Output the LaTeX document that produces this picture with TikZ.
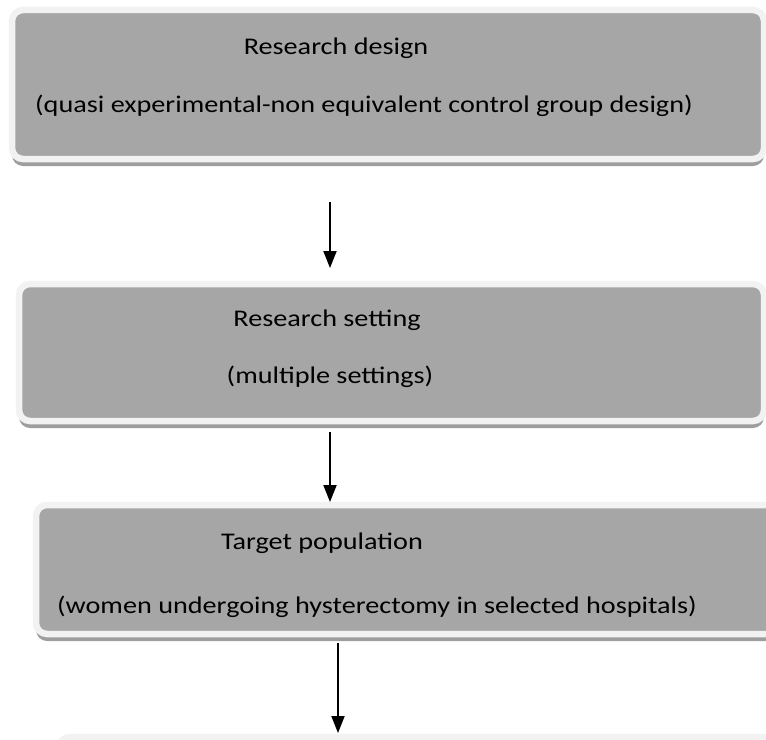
\documentclass[tikz,border=0pt]{standalone}
\usepackage{fontspec}
\setmainfont{Carlito}[FakeStretch=1.18]
\usepackage{xcolor}
\usetikzlibrary{arrows.meta, positioning, calc, shadows}
\definecolor{StageGray}{RGB}{166, 166, 166}
\definecolor{StageRim}{RGB}{242, 242, 242}
\definecolor{StageShade}{RGB}{158, 158, 158}

\tikzset{
  stagebox/.style={rounded corners=11bp, fill=StageGray, draw=StageRim, line width=6.5bp,
    anchor=north west, inner sep=0pt, outer sep=0pt,
    drop shadow={shadow xshift=0bp, shadow yshift=-7bp, fill=StageShade, opacity=1}},
  stagetext/.style={inner sep=0pt, text=black, font=\fontsize{24}{28}\selectfont},
  flow/.style={draw=black, line width=2bp, -{Triangle[width=13bp, length=17bp]}}
}

\begin{document}
\begin{tikzpicture}[x=1bp, y=-1bp]
    \useasboundingbox (0,0) rectangle (766,740);
    % stage boxes
    \node[stagebox, minimum width=752bp, minimum height=149bp] (design) at (12,10) {};
    \node[stagebox, minimum width=745bp, minimum height=137bp] (setting) at (19,284) {};
    \node[stagebox, minimum width=760bp, minimum height=129bp] (population) at (36,505) {};
    \node[stagebox, minimum width=760bp, minimum height=129bp] (sample) at (59,737) {};
    % box texts
    \node[stagetext] (designname) at (336,48) {Research design};
    \node[stagetext] (designnote) at (364,106) {(quasi experimental-non equivalent control group design)};
    \node[stagetext] (settingname) at (327,320) {Research setting};
    \node[stagetext] (settingnote) at (330,377) {(multiple settings)};
    \node[stagetext] (populationname) at (322,543) {Target population};
    \node[stagetext] (populationnote) at (377,607) {(women undergoing hysterectomy in selected hospitals)};
    % arrow columns
    \coordinate (colA) at (330,0);
    \coordinate (colB) at (338,0);
    \draw[flow] ($(design.south -| colA)+(0,43)$) -- ($(setting.north -| colA)+(0,-16)$);
    \draw[flow] ($(setting.south -| colA)+(0,11)$) -- ($(population.north -| colA)+(0,-3)$);
    \draw[flow] ($(population.south -| colB)+(0,9)$) -- ($(sample.north -| colB)+(0,-4)$);
  \end{tikzpicture}
\end{document}
